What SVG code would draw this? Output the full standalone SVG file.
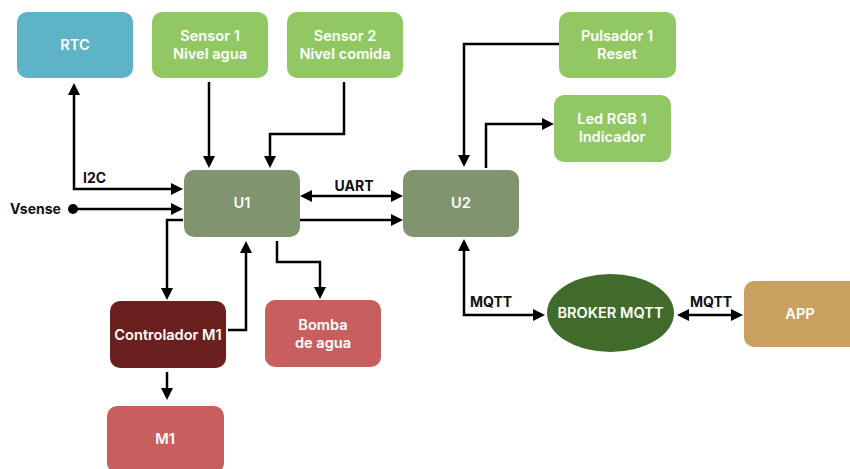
<svg xmlns="http://www.w3.org/2000/svg" width="850" height="469" viewBox="0 0 850 469">
<style>
.n{font-family:Inter,"Liberation Sans",sans-serif;font-size:14.6px;font-weight:600;fill:#fff;text-anchor:middle}
.l{font-family:Inter,"Liberation Sans",sans-serif;font-size:14px;font-weight:700;fill:#111}
.c{fill:none;stroke:#000;stroke-width:2.5}
</style>
<defs>
<marker id="a" markerUnits="userSpaceOnUse" markerWidth="12" markerHeight="12" refX="8" refY="6" orient="auto-start-reverse"><path d="M0,0L12,6L0,12z" fill="#000"/></marker>
</defs>
<rect width="850" height="469" fill="#fff"/>
<g id="rtc"><rect x="17" y="12" width="116" height="66" rx="10" fill="#5fb3c8"/><text class="n" x="75" y="50">RTC</text></g>
<g id="sensor1"><rect x="152" y="12" width="116" height="66" rx="10" fill="#92c864"/><text class="n" x="210" y="41">Sensor 1</text><text class="n" x="210" y="59">Nivel agua</text></g>
<g id="sensor2"><rect x="287" y="12" width="116" height="66" rx="10" fill="#92c864"/><text class="n" x="345" y="41">Sensor 2</text><text class="n" x="345" y="59">Nivel comida</text></g>
<g id="pulsador"><rect x="559" y="12" width="117" height="66" rx="10" fill="#92c864"/><text class="n" x="617" y="41">Pulsador 1</text><text class="n" x="617" y="59">Reset</text></g>
<g id="led"><rect x="554" y="95" width="117" height="67" rx="10" fill="#92c864"/><text class="n" x="612" y="124">Led RGB 1</text><text class="n" x="612" y="142">Indicador</text></g>
<g id="u1"><rect x="184" y="170" width="116" height="67" rx="10" fill="#809470"/><text class="n" x="242" y="208">U1</text></g>
<g id="u2"><rect x="403" y="170" width="116" height="67" rx="10" fill="#809470"/><text class="n" x="461" y="208">U2</text></g>
<g id="controlador"><rect x="110" y="301" width="116" height="67" rx="10" fill="#6b2020"/><text class="n" x="168" y="340">Controlador M1</text></g>
<g id="bomba"><rect x="265" y="300" width="116" height="67" rx="10" fill="#c85f5f"/><text class="n" x="323" y="330">Bomba</text><text class="n" x="323" y="348">de agua</text></g>
<g id="m1"><rect x="107" y="406" width="117" height="67" rx="10" fill="#c85f5f"/><text class="n" x="165" y="444">M1</text></g>
<g id="broker"><ellipse cx="610.5" cy="313" rx="63.5" ry="39" fill="#416b2a"/><text class="n" x="610.5" y="318">BROKER MQTT</text></g>
<g id="app"><rect x="744" y="281" width="116" height="66" rx="10" fill="#c9a060"/><text class="n" x="800" y="319">APP</text></g>
<g id="connectors">
<path class="c" d="M74,87L74,189L179,189" marker-start="url(#a)" marker-end="url(#a)"/>
<circle cx="73" cy="209" r="5" fill="#000"/>
<path class="c" d="M73,209L179,209" marker-end="url(#a)"/>
<path class="c" d="M209,82L209,164" marker-end="url(#a)"/>
<path class="c" d="M344,82L344,134L270,134L270,164" marker-end="url(#a)"/>
<path class="c" d="M304,196L399,196" marker-start="url(#a)" marker-end="url(#a)"/>
<path class="c" d="M300,220L399,220" marker-end="url(#a)"/>
<path class="c" d="M183,220L167,220L167,296" marker-end="url(#a)"/>
<path class="c" d="M228,330L246,330L246,245" marker-end="url(#a)"/>
<path class="c" d="M277,241L277,262L320,262L320,295" marker-end="url(#a)"/>
<path class="c" d="M167,372L167,396" marker-end="url(#a)"/>
<path class="c" d="M559,44L464,44L464,163" marker-end="url(#a)"/>
<path class="c" d="M486,168L486,124L550,124" marker-end="url(#a)"/>
<path class="c" d="M464,243L464,315L541,315" marker-start="url(#a)" marker-end="url(#a)"/>
<path class="c" d="M681,315L739,315" marker-start="url(#a)" marker-end="url(#a)"/>
<text class="l" x="83" y="183">I2C</text>
<text class="l" x="10" y="214">Vsense</text>
<text class="l" x="354" y="191" text-anchor="middle">UART</text>
<text class="l" x="470" y="307">MQTT</text>
<text class="l" x="690" y="307">MQTT</text>
</g>
</svg>
